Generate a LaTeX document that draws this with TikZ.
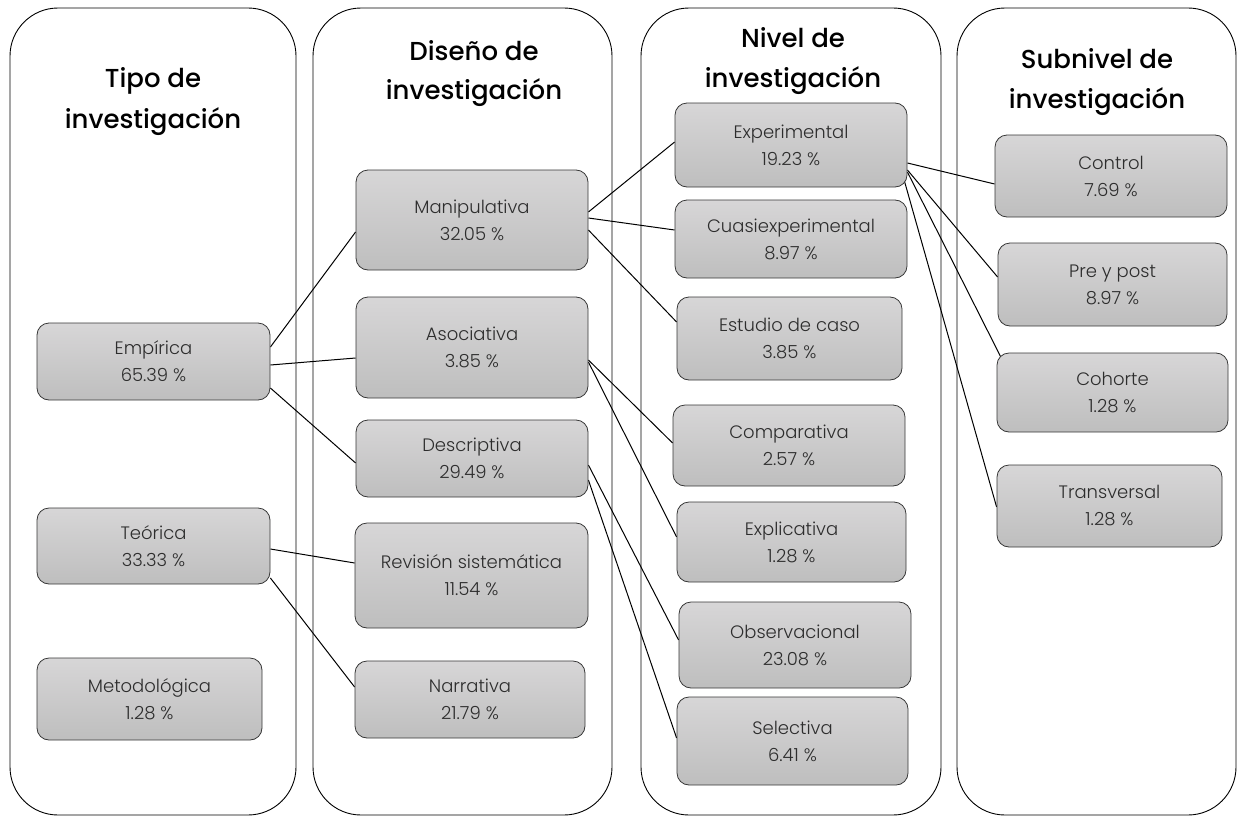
\documentclass[tikz,border=0pt]{standalone}
\usepackage{fontspec}
\setmainfont{Poppins}
\IfFontExistsTF{Poppins Light}{\newfontfamily\boxfont{Poppins Light}}{\newfontfamily\boxfont{Poppins}}
\IfFontExistsTF{Poppins Medium}{\newfontfamily\headfont{Poppins Medium}}{\newfontfamily\headfont{Poppins}}
\usetikzlibrary{backgrounds}
\definecolor{boxtop}{RGB}{215,214,215}
\definecolor{boxbot}{RGB}{190,190,190}
\definecolor{boxline}{RGB}{55,55,55}
\definecolor{boxtext}{RGB}{45,45,45}
\begin{document}
\begin{tikzpicture}[x=1pt,y=-1pt,
  column/.style={draw=black, line width=0.9pt, rounded corners=48pt},
  header/.style={anchor=base, font=\headfont\fontsize{26}{30}\selectfont, inner sep=0pt},
  item/.style={draw=boxline, line width=0.8pt, rounded corners=12pt,
    top color=boxtop, bottom color=boxbot, align=center, text=boxtext,
    font=\boxfont\fontsize{18}{27}\selectfont, inner sep=0pt},
  sz/.style 2 args={minimum width=#1pt, minimum height=#2pt},
  link/.style={draw=black, line width=1pt}]
\useasboundingbox (0,0) rectangle (1244,816);

% headers
\node[header] (h1a) at (153,87) {Tipo de};
\node[header] (h1b) at (153,128) {investigación};
\node[header] (h2a) at (474,60) {Diseño de};
\node[header] (h2b) at (474,99) {investigación};
\node[header] (h3a) at (793,48) {Nivel de};
\node[header] (h3b) at (793,88) {investigación};
\node[header] (h4a) at (1097,69) {Subnivel de};
\node[header] (h4b) at (1097,108) {investigación};

% boxes
\node[item, sz={233}{77}] (emp) at (153.5,361.5) {Empírica\\65.39 \%};
\node[item, sz={233}{76}] (teo) at (153.5,546) {Teórica\\33.33 \%};
\node[item, sz={225}{82}] (met) at (149.5,699) {Metodológica\\1.28 \%};
\node[item, sz={232}{100}] (man) at (472,220) {Manipulativa\\32.05 \%};
\node[item, sz={232}{101}] (aso) at (472,347.5) {Asociativa\\3.85 \%};
\node[item, sz={232}{77}] (des) at (472,458.5) {Descriptiva\\29.49 \%};
\node[item, sz={233}{105}] (rev) at (471.5,575.5) {Revisión sistemática\\11.54 \%};
\node[item, sz={230}{77}] (nar) at (470,699.5) {Narrativa\\21.79 \%};
\node[item, sz={232}{84}] (exp) at (791,145) {Experimental\\19.23 \%};
\node[item, sz={232}{78}] (cua) at (791,239) {Cuasiexperimental\\8.97 \%};
\node[item, sz={225}{83}] (est) at (789.5,338.5) {Estudio de caso\\3.85 \%};
\node[item, sz={232}{81}] (com) at (789,445.5) {Comparativa\\2.57 \%};
\node[item, sz={229}{80}] (exl) at (791.5,542) {Explicativa\\1.28 \%};
\node[item, sz={232}{86}] (obs) at (795,645) {Observacional\\23.08 \%};
\node[item, sz={231}{88}] (sel) at (792.5,741) {Selectiva\\6.41 \%};
\node[item, sz={232}{82}] (con) at (1111,176) {Control\\7.69 \%};
\node[item, sz={229}{83}] (pre) at (1112.5,284.5) {Pre y post\\8.97 \%};
\node[item, sz={231}{79}] (coh) at (1112.5,392.5) {Cohorte\\1.28 \%};
\node[item, sz={225}{82}] (tra) at (1109.5,506) {Transversal\\1.28 \%};

\begin{scope}[on background layer]
% columns
\draw[column] (10,8) rectangle (296,815);
\draw[column] (313,8) rectangle (612,815);
\draw[column] (641,8) rectangle (941,815);
\draw[column] (957,8) rectangle (1236,815);
% links
\draw[link] ([yshift=14.5pt]emp.east) -- ([yshift=-12pt]man.west);
\draw[link] ([yshift=-3.5pt]emp.east) -- ([yshift=-10.5pt]aso.west);
\draw[link] ([yshift=-26.5pt]emp.east) -- ([yshift=-4.5pt]des.west);
\draw[link] ([yshift=-3pt]teo.east) -- ([yshift=12.5pt]rev.west);
\draw[link] ([yshift=-32pt]teo.east) -- ([yshift=12.5pt]nar.west);
\draw[link] ([yshift=8pt]man.east) -- ([yshift=3pt]exp.west);
\draw[link] ([yshift=2pt]man.east) -- ([yshift=9pt]cua.west);
\draw[link] ([yshift=-10pt]man.east) -- ([yshift=16.5pt]est.west);
\draw[link] ([yshift=-12.5pt]aso.east) -- ([yshift=2.5pt]com.west);
\draw[link] ([yshift=-14.5pt]aso.east) -- ([yshift=5pt]exl.west);
\draw[link] ([yshift=-6.5pt]des.east) -- ([yshift=5pt]obs.west);
\draw[link] ([yshift=-21.5pt]des.east) -- ([yshift=3pt]sel.west);
\draw[link] ([yshift=-18pt]exp.east) -- ([yshift=-8pt]con.west);
\draw[link] ([yshift=-25pt]exp.east) -- ([yshift=7.5pt]pre.west);
\draw[link] ([yshift=-27pt]exp.east) -- ([xshift=4pt,yshift=-4pt]coh.north west);
\draw[link] ([xshift=-3pt,yshift=-36pt]exp.east) -- ([yshift=-1pt]tra.west);
\end{scope}
\end{tikzpicture}
\end{document}
